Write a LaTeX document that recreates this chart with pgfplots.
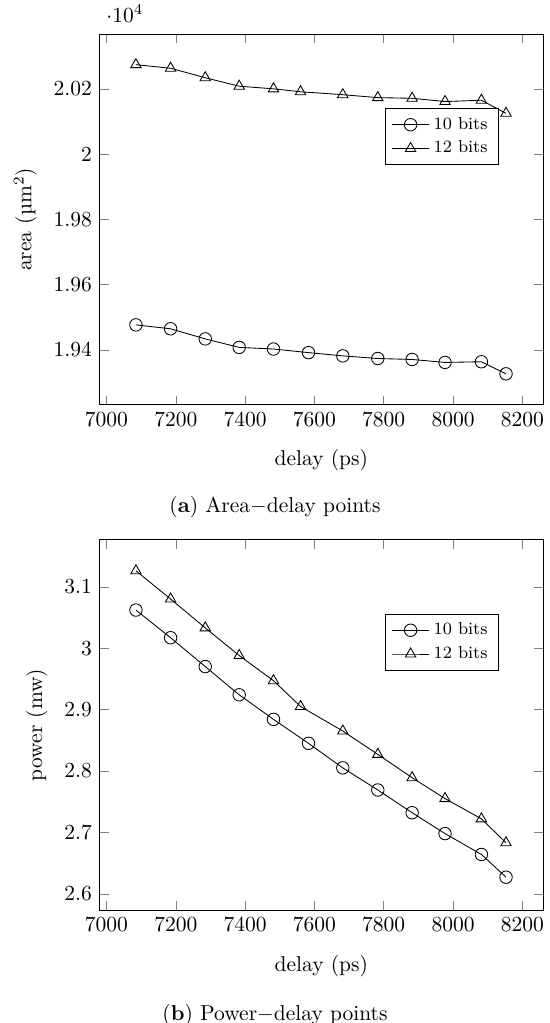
\documentclass[border=0pt]{standalone}
\usepackage{pgfplots}
\pgfplotsset{compat=1.18}
\begin{document}
\begin{tikzpicture}
\useasboundingbox (0pt,0pt) rectangle (255.8pt,-475.8pt);
\pgfplotsset{
  myaxis/.style={
    scale only axis, width=206.3pt, height=172.5pt,
    xmin=6980, xmax=8260,
    xtick={7000,7200,7400,7600,7800,8000,8200},
    scaled x ticks=false,
    /pgf/number format/1000 sep={},
    xlabel={delay (ps)},
    xlabel style={yshift=-4pt},
    ylabel style={yshift=1pt},
    legend style={at={(0.9,0.8)}, anchor=north east, draw=black, font=\footnotesize},
    legend cell align=left,
  },
  s10/.style={black, mark=o, mark size=2.9pt, thin},
  s12/.style={black, mark=triangle, mark size=2.8pt, thin},
}
% (a) Area-delay
\begin{axis}[myaxis, at={(46.3pt,-15.8pt)}, anchor=north west,
  ymin=19232, ymax=20368,
  ytick={19400,19600,19800,20000,20200},
  ylabel={area (µm$^2$)}]
\addplot[s10] coordinates {
(7085,19477) (7185,19465) (7285,19434) (7383,19408) (7482,19403) (7583,19392)
(7682,19382) (7783,19374) (7882,19371) (7977,19362) (8082,19364) (8153,19327)};
\addplot[s12] coordinates {
(7085,20274) (7185,20263) (7285,20234) (7383,20208) (7482,20200) (7560,20191)
(7682,20182) (7783,20173) (7882,20171) (7977,20161) (8082,20165) (8153,20125)};
\legend{10 bits, 12 bits}
\end{axis}
\node at (127.9pt,-235.8pt) {(\textbf{a}) Area$-$delay points};
% (b) Power-delay
\begin{axis}[myaxis, at={(46.3pt,-250.9pt)}, anchor=north west,
  ymin=2.573, ymax=3.177,
  ytick={2.6,2.7,2.8,2.9,3,3.1},
  ylabel={power (mw)}]
\addplot[s10] coordinates {
(7085,3.062) (7185,3.017) (7285,2.970) (7383,2.924) (7482,2.884) (7583,2.845)
(7682,2.805) (7783,2.769) (7882,2.732) (7977,2.698) (8082,2.664) (8153,2.627)};
\addplot[s12] coordinates {
(7085,3.126) (7185,3.080) (7285,3.033) (7383,2.988) (7482,2.947) (7560,2.905)
(7682,2.865) (7783,2.827) (7882,2.789) (7977,2.755) (8082,2.722) (8153,2.683)};
\legend{10 bits, 12 bits}
\end{axis}
\node at (127.9pt,-472.1pt) {(\textbf{b}) Power$-$delay points};
\end{tikzpicture}
\end{document}
